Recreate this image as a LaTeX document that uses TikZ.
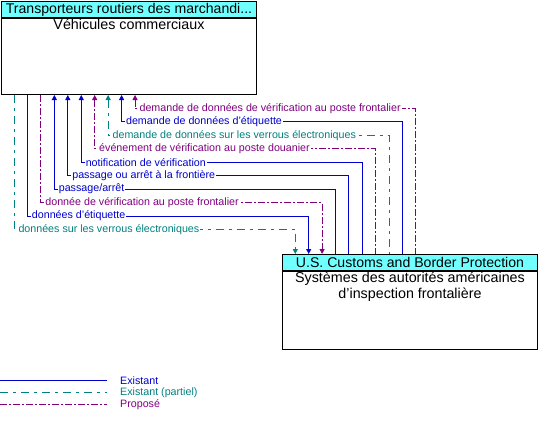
\documentclass[tikz,border=0pt]{standalone}
\usepackage{fontspec}
\setmainfont{Liberation Sans}
\usetikzlibrary{positioning,calc,arrows.meta}
\definecolor{cexist}{RGB}{0,0,204}
\definecolor{cpartiel}{RGB}{0,128,128}
\definecolor{cpropose}{RGB}{128,0,128}
\definecolor{entete}{RGB}{112,255,255}
\tikzset{
  entetebox/.style={draw, fill=entete, line width=1pt, minimum width=255pt,
    minimum height=16pt, inner sep=0pt, anchor=north west,
    font=\fontsize{14.1}{14}\selectfont},
  corpsbox/.style={draw, line width=1pt, minimum width=255pt, inner sep=0pt},
  corpstxt/.style={align=center, font=\fontsize{14.3}{16}\selectfont,
    inner sep=1pt, anchor=north},
  fluxlbl/.style={fill=white, inner xsep=1pt, inner ysep=0.5pt, anchor=west,
    xshift=3pt, font=\fontsize{10.7}{12}\selectfont},
  leglbl/.style={anchor=west, inner sep=0pt, font=\fontsize{10.7}{12}\selectfont},
  existant/.style={cexist, line width=1pt},
  partiel/.style={cpartiel, line width=1pt, dash pattern=on 8pt off 5pt on 3pt off 5pt},
  propose/.style={cpropose, line width=1pt, dash pattern=on 7pt off 2pt on 2pt off 2pt},
  versbas/.style={->},
  vershaut/.style={<-},
}
\begin{document}
\begin{tikzpicture}[x=1pt, y=-1pt, >={Triangle[length=5pt,width=5pt]}]
  \useasboundingbox (0,0) rectangle (546,423);

  % Vehicules commerciaux
  \node[entetebox] (cvhdr) at (1,1) {Transporteurs routiers des marchandi...};
  \node[corpsbox, minimum height=76pt, below=0pt of cvhdr] (cv) {};
  \node[corpstxt, below=0pt of cv.north] (cvtxt) {Véhicules commerciaux};

  % Customs and Border Protection
  \node[entetebox] (cbphdr) at (282,254) {U.S. Customs and Border Protection};
  \node[corpsbox, minimum height=78pt, below=0pt of cbphdr] (cbp) {};
  \node[corpstxt, below=0pt of cbp.north] (cbptxt)
    {Systèmes des autorités américaines\\d’inspection frontalière};

  % flux
  \foreach \k/\sty/\dir/\txt in {
      0/partiel/versbas/{données sur les verrous électroniques},
      1/existant/versbas/{données d'étiquette},
      2/propose/versbas/{donnée de vérification au poste frontalier},
      3/existant/vershaut/{passage/arrêt},
      4/existant/vershaut/{passage ou arrêt à la frontière},
      5/existant/vershaut/{notification de vérification},
      6/propose/vershaut/{événement de vérification au poste douanier},
      7/partiel/vershaut/{demande de données sur les verrous électroniques},
      8/existant/vershaut/{demande de données d'étiquette},
      9/propose/vershaut/{demande de données de vérification au poste frontalier}} {
    \draw[\sty,\dir] ($(cv.south west)+(13+13.45*\k,0)$)
      -- ++(0,{134.5-13.45*\k}) node[fluxlbl] (f\k) {\txt}
      -| ($(cbphdr.north west)+(13.3+13.4*\k,0)$);
  }

  % legende
  \coordinate (lg1) at (0,380);
  \coordinate (lg2) at (0,392);
  \coordinate (lg3) at (0,404);
  \draw[existant] (lg1) -- ++(107,0);
  \draw[partiel] (lg2) -- ++(107,0);
  \draw[propose] (lg3) -- ++(107,0);
  \node[leglbl, text=cexist] (lgt1) at (120,381) {Existant};
  \node[leglbl, text=cpartiel] (lgt2) at (120,393) {Existant (partiel)};
  \node[leglbl, text=cpropose] (lgt3) at (120,405) {Proposé};
\end{tikzpicture}
\end{document}
